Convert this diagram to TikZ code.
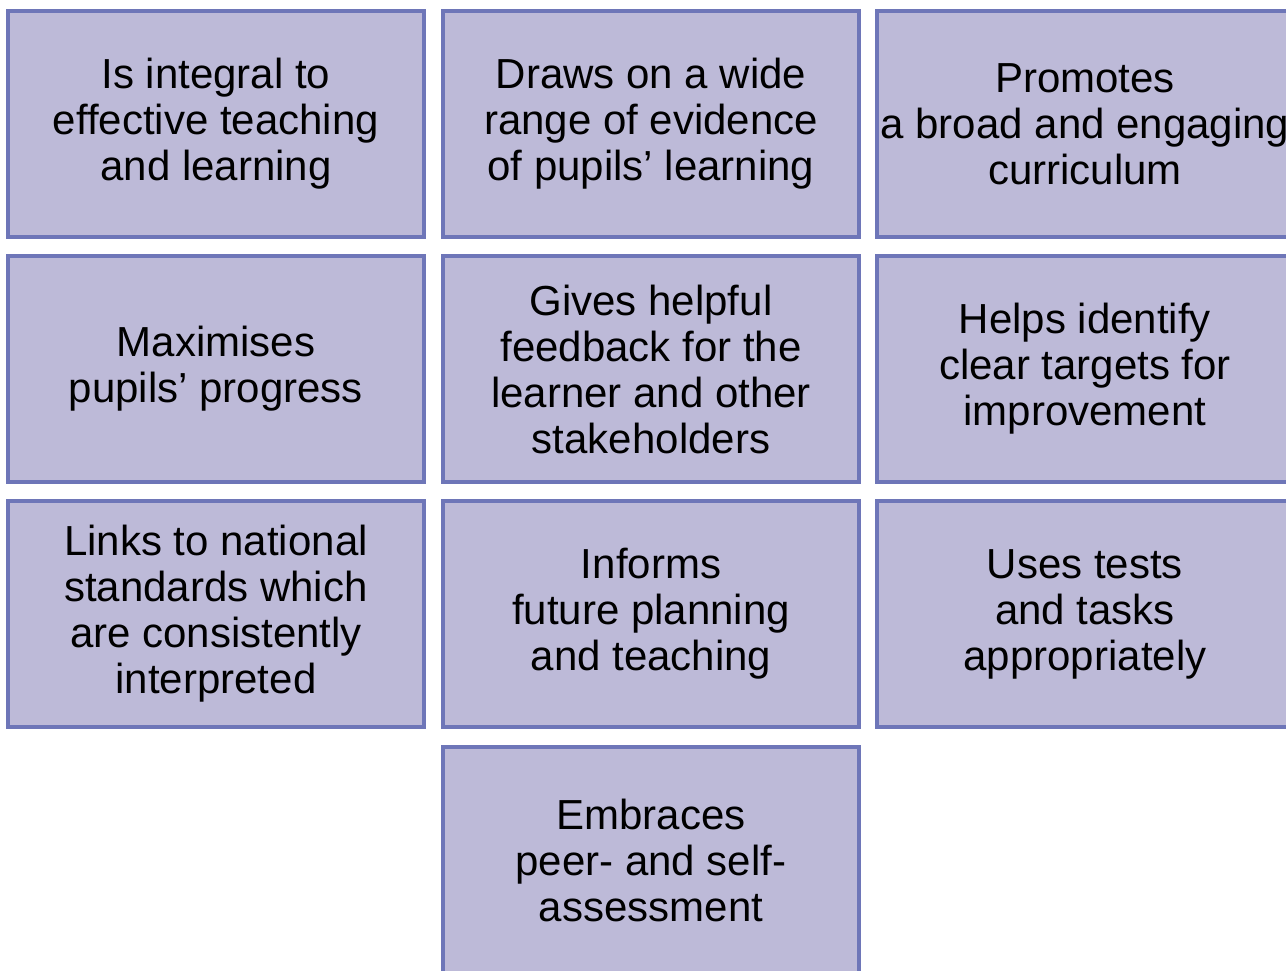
\documentclass[tikz,border=0pt]{standalone}
\usepackage{fontspec}
\setmainfont{Liberation Sans}
\definecolor{boxfill}{RGB}{189,186,216}
\definecolor{boxline}{RGB}{110,118,184}
\begin{document}
\begin{tikzpicture}[x=1pt,y=-1pt,
  card/.style={draw=boxline, fill=boxfill, line width=3.5pt, minimum width=416pt, minimum height=226pt,
    inner sep=0pt, align=center, font=\fontsize{42}{46}\selectfont}]
\clip (0,0) rectangle (1286,970);
\useasboundingbox (0,0) rectangle (1286,970);
\node[card] (b1) at (216,124) {Is integral to\\effective teaching\\and learning};
\node[card] (b2) at (651,124) {Draws on a wide\\range of evidence\\of pupils’ learning};
\node[card] (b3) at (1085,124) {Promotes\\a broad and engaging\\curriculum};
\node[card] (b4) at (216,369) {Maximises\\pupils’ progress};
\node[card] (b5) at (651,369) {Gives helpful\\feedback for the\\learner and other\\stakeholders};
\node[card] (b6) at (1085,369) {Helps identify\\clear targets for\\improvement};
\node[card] (b7) at (216,614) {Links to national\\standards which\\are consistently\\interpreted};
\node[card] (b8) at (651,614) {Informs\\future planning\\and teaching};
\node[card] (b9) at (1085,614) {Uses tests\\and tasks\\appropriately};
\node[card] (b10) at (651,860) {Embraces\\peer- and self-\\assessment};
\end{tikzpicture}
\end{document}
